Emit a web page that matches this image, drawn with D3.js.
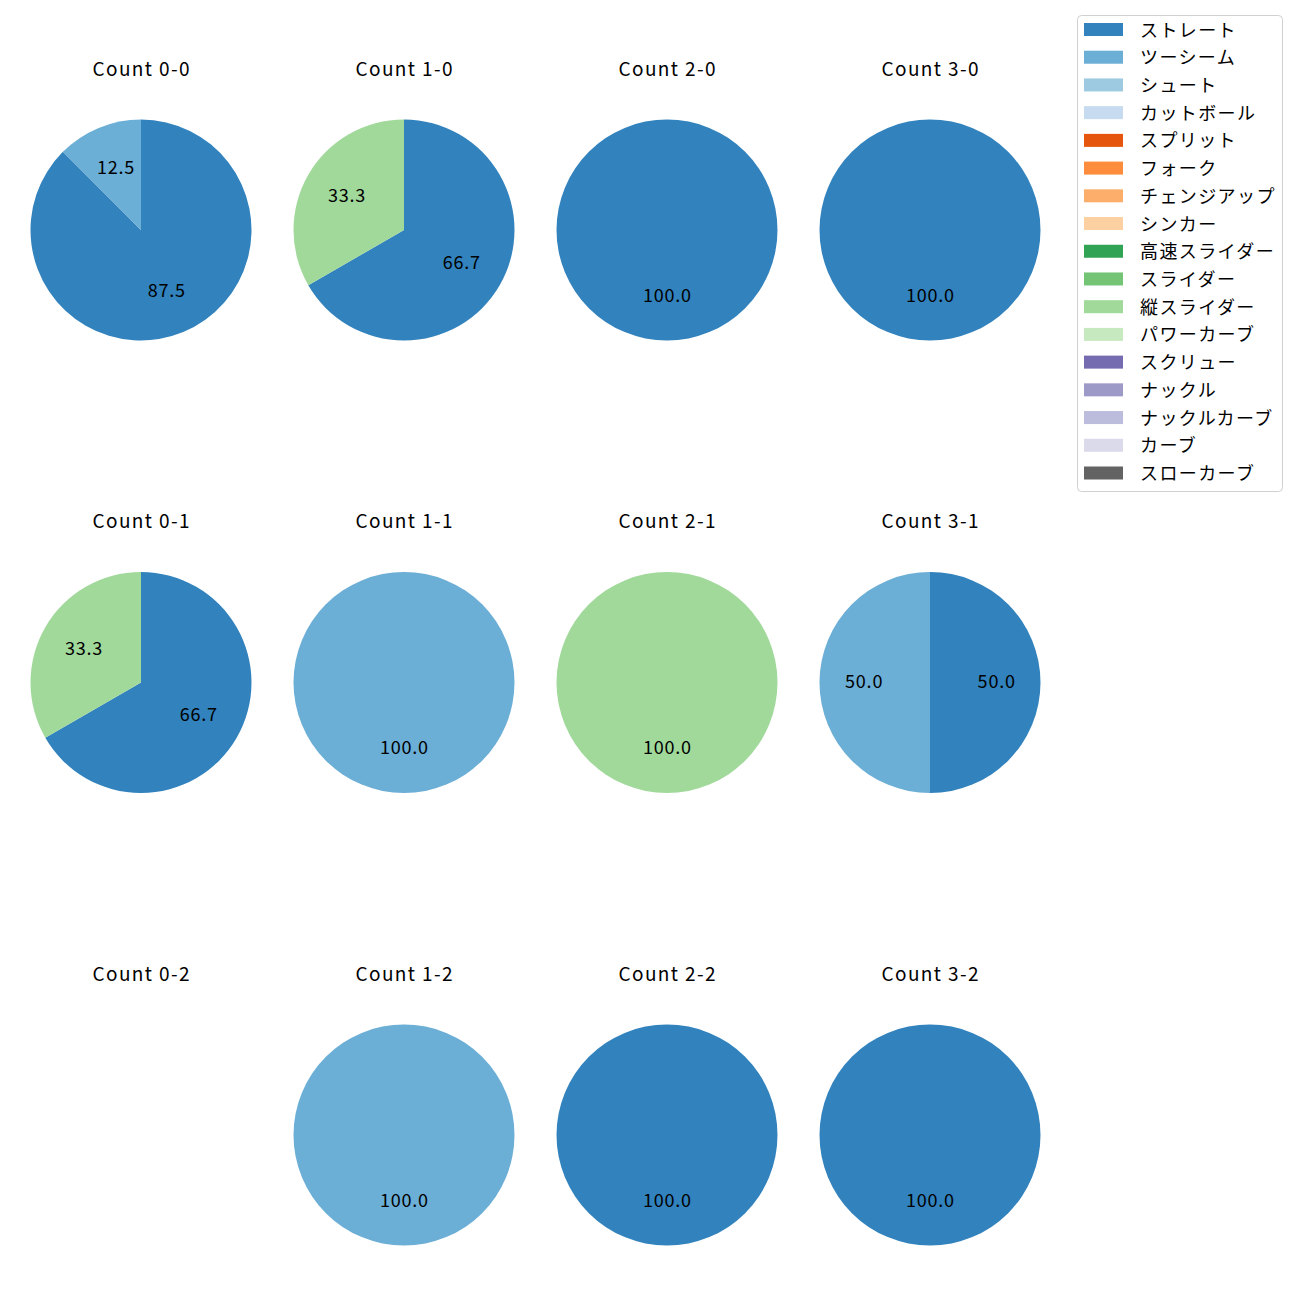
<!DOCTYPE html>
<html><head><meta charset="utf-8">
<script src="https://cdn.jsdelivr.net/npm/d3@7"></script>
<style>body{margin:0;background:#fff;} text{font-family:"Noto Sans CJK JP","Noto Sans",sans-serif;}</style>
</head><body>
<svg id="chart" width="1300" height="1300"></svg>
<script>
const pitchTypes = ["ストレート","ツーシーム","シュート","カットボール","スプリット","フォーク","チェンジアップ","シンカー","高速スライダー","スライダー","縦スライダー","パワーカーブ","スクリュー","ナックル","ナックルカーブ","カーブ","スローカーブ"];
const colors = ["#3182bd","#6baed6","#9ecae1","#c6dbef","#e6550d","#fd8d3c","#fdae6b","#fdd0a2","#31a354","#74c476","#a1d99b","#c7e9c0","#756bb1","#9e9ac8","#bcbddc","#dadaeb","#636363"];
const countLabels = ["Count 0-0","Count 1-0","Count 2-0","Count 3-0","Count 0-1","Count 1-1","Count 2-1","Count 3-1","Count 0-2","Count 1-2","Count 2-2","Count 3-2"];
// pitch counts per panel: [pitch type, count]
const panel00 = [["ストレート",7],["ツーシーム",1]];
const panel10 = [["ストレート",2],["縦スライダー",1]];
const panel20 = [["ストレート",1]];
const panel30 = [["ストレート",2]];
const panel01 = [["ストレート",2],["縦スライダー",1]];
const panel11 = [["ツーシーム",1]];
const panel21 = [["縦スライダー",1]];
const panel31 = [["ストレート",1],["ツーシーム",1]];
const panel02 = [];
const panel12 = [["ツーシーム",1]];
const panel22 = [["ストレート",1]];
const panel32 = [["ストレート",2]];
const panels = [panel00,panel10,panel20,panel30,panel01,panel11,panel21,panel31,panel02,panel12,panel22,panel32];

const svg = d3.select("#chart");
const color = d3.scaleOrdinal().domain(pitchTypes).range(colors);
const colX = d3.scalePoint().domain([0,1,2,3]).range([141,930]);
const rowY = d3.scalePoint().domain([0,1,2]).range([230,1135]);
const R = 110.5;
const pie = d3.pie().sort(null).value(d=>d[1]);
const arc = d3.arc().innerRadius(0).outerRadius(R);
const labelArc = d3.arc().innerRadius(R*0.6*2).outerRadius(0); // centroid = 0.6R

panels.forEach((data,i)=>{
  const cx = colX(i%4), cy = rowY(Math.floor(i/4));
  const g = svg.append("g").attr("transform",`translate(${cx},${cy})`);
  g.append("text").attr("x",0.7).attr("y",-163).attr("text-anchor","middle")
   .attr("dominant-baseline","central").attr("font-size",19).attr("letter-spacing",1.4)
   .attr("fill","#000").text(countLabels[i]);
  const total = d3.sum(data,d=>d[1]);
  const arcs = pie(data);
  g.selectAll("path").data(arcs).join("path").attr("d",arc).attr("fill",d=>color(d.data[0]));
  g.selectAll("text.pct").data(arcs).join("text").attr("class","pct")
   .attr("transform",d=>{const c=labelArc.centroid(d);return `translate(${c[0]+0.4},${c[1]-2.5})`;})
   .attr("text-anchor","middle").attr("dominant-baseline","central").attr("font-size",18)
   .attr("letter-spacing",0.8).attr("fill","#000")
   .text(d=>(d.data[1]/total*100).toFixed(1));
});

// legend
const lg = svg.append("g");
lg.append("rect").attr("x",1077.5).attr("y",15.5).attr("width",205).attr("height",476).attr("rx",4)
  .attr("fill","#fff").attr("stroke","#d0d0d0").attr("stroke-width",1);
const ly = d3.scaleLinear().domain([0,16]).range([29.5,473]);
pitchTypes.forEach((p,i)=>{
  lg.append("rect").attr("x",1084).attr("y",ly(i)-6.5).attr("width",39).attr("height",13).attr("fill",color(p));
  lg.append("text").attr("x",1140).attr("y",ly(i)-1).attr("dominant-baseline","central")
    .attr("font-size",18).attr("letter-spacing",1.4).attr("fill","#000").text(p);
});
</script>
</body></html>
